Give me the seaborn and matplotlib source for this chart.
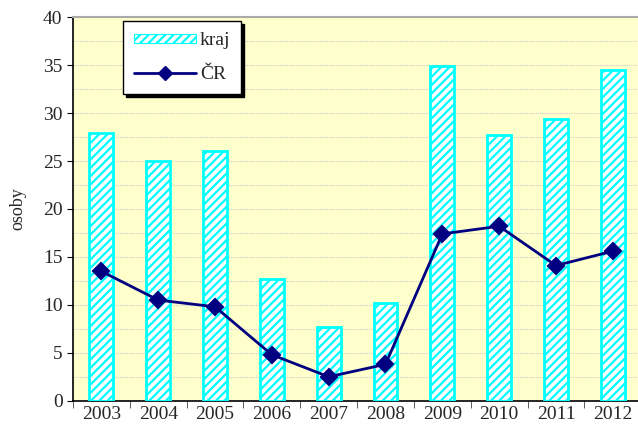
import numpy as np
import pandas as pd
import matplotlib
matplotlib.use("Agg")
import matplotlib.pyplot as plt
import seaborn as sns
from matplotlib.patches import Patch, Rectangle
from matplotlib.lines import Line2D
from matplotlib.legend_handler import HandlerPatch

# data
years = ["2003", "2004", "2005", "2006", "2007", "2008", "2009", "2010", "2011", "2012"]
kraj = [27.9, 25.0, 26.0, 12.7, 7.7, 10.2, 34.9, 27.7, 29.4, 34.5]
cr = [13.5, 10.5, 9.8, 4.8, 2.5, 3.8, 17.4, 18.2, 14.1, 15.6]

df = pd.DataFrame({"rok": years, "kraj": kraj, "CR": cr})

sns.set_style("white")
plt.rcParams["font.family"] = ["Liberation Serif", "DejaVu Serif"]
plt.rcParams["hatch.color"] = "#00FFFF"
plt.rcParams["hatch.linewidth"] = 1.6

fig, ax = plt.subplots(figsize=(6.38, 4.30), dpi=100)
# plot area runs slightly past the right edge, like the original
fig.subplots_adjust(left=0.1144, right=1.005, top=0.96, bottom=0.068)
ax.set_facecolor("#FFFFCC")

sns.barplot(data=df, x="rok", y="kraj", color="white", width=0.42,
            edgecolor="#00FFFF", linewidth=2, ax=ax, zorder=3)
for bar in ax.patches:
    bar.set_hatch("////")
    bar.set_facecolor("white")

sns.pointplot(data=df, x="rok", y="CR", color="#000080", markers="D",
              markersize=8, linewidth=2, ax=ax, zorder=4)

ax.set_ylim(0, 40)
ax.set_yticks(np.arange(0, 41, 5))
ax.set_yticks(np.arange(0, 40, 2.5), minor=True)
ax.grid(axis="y", which="both", color="#CCCCCC", linestyle=(0, (1, 1)), linewidth=0.8, zorder=0)
ax.set_axisbelow(True)
ax.set_xlim(-0.5, 9.5)

ax.set_xlabel("")
ax.set_ylabel("osoby", fontsize=13, labelpad=12)
ax.tick_params(axis="both", labelsize=14, length=4, direction="out",
               bottom=True, left=True, color="black")
ax.tick_params(axis="y", which="minor", left=False)
ax.set_xticks(np.arange(-0.5, 10, 1), minor=True)
ax.tick_params(axis="x", which="major", length=0, pad=4)
ax.tick_params(axis="x", which="minor", length=5, bottom=True, color="#444444")

for s in ["left", "bottom"]:
    ax.spines[s].set_color("black")
    ax.spines[s].set_linewidth(1.2)
ax.spines["top"].set_color("#AAAAAA")
ax.spines["top"].set_linewidth(1.5)
ax.spines["right"].set_visible(False)


def thin_patch(legend, orig_handle, xdescent, ydescent, width, height, fontsize):
    return Rectangle((-xdescent, -ydescent + height * 0.2), width, height * 0.6)


handles = [
    Patch(facecolor="white", edgecolor="#00FFFF", hatch="////", linewidth=0.8, label="kraj"),
    Line2D([0], [0], color="#000080", marker="D", markersize=7, linewidth=2, label="ČR"),
]
leg = ax.legend(handles=handles, loc="upper left", bbox_to_anchor=(0.088, 0.99),
                frameon=True, fancybox=False, shadow={"color": "black", "alpha": 1},
                edgecolor="black", fontsize=14, borderpad=0.55, labelspacing=0.85,
                handlelength=3.2, handletextpad=0.2, borderaxespad=0,
                handler_map={Patch: HandlerPatch(patch_func=thin_patch)})
leg.get_frame().set_linewidth(1)
leg.set_zorder(10)

plt.savefig("out.png", dpi=100)
